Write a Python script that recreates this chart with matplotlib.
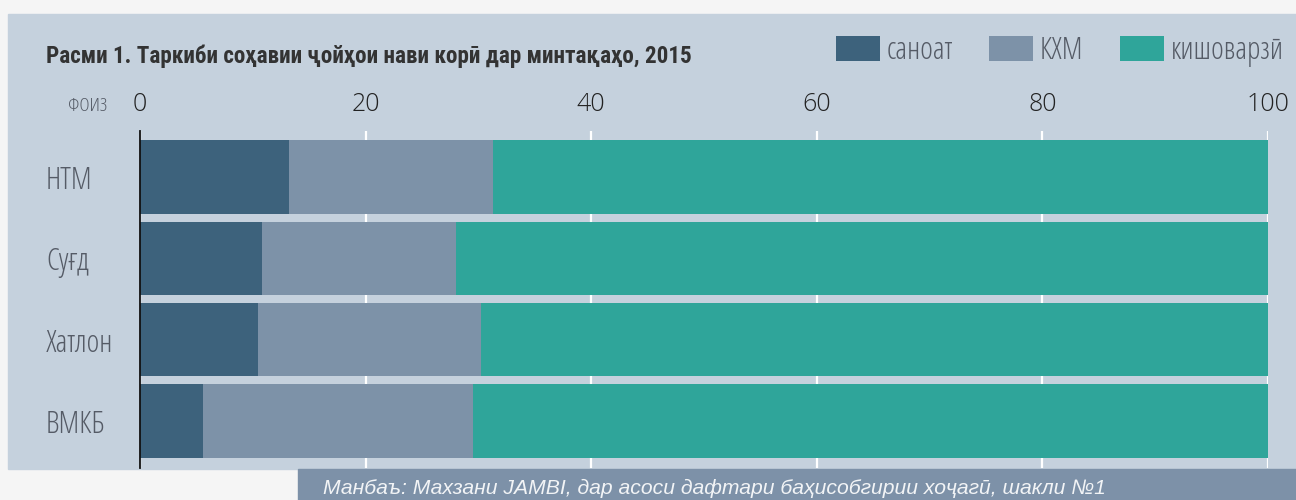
import matplotlib.pyplot as plt
from matplotlib.patches import Rectangle, Patch
from matplotlib.font_manager import FontProperties

# data (percent of new jobs by sector)
regions = ['НТМ', 'Суғд', 'Хатлон', 'ВМКБ']
sanoat = [13.2, 10.8, 10.5, 5.6]
khm = [18.1, 17.2, 19.7, 23.9]
kishovarzi = [68.7, 72.0, 69.8, 70.5]
xticks = [0, 20, 40, 60, 80, 100]

c_san = '#3d627c'
c_khm = '#7d92a8'
c_kish = '#2fa59a'
panel = '#c5d1dd'


def light(size, stretch='condensed'):
    return FontProperties(family=['Open Sans', 'DejaVu Sans'], stretch=stretch,
                          weight='light', size=size)


cond = ['Roboto Condensed', 'DejaVu Sans']

fig = plt.figure(figsize=(12.96, 5.0), dpi=100)
fig.patch.set_facecolor('#f5f5f5')

# background panel and source box
W, H = 1296, 500
fig.patches.append(Rectangle((8 / W, 1 - 469 / H), 1288 / W, 455 / H,
                             transform=fig.transFigure, color=panel, zorder=0))
fig.patches.append(Rectangle((298 / W, 0), 998 / W, 31 / H,
                             transform=fig.transFigure, color='#7d91a8', zorder=0))

ax = fig.add_axes([140 / W, 1 - 468 / H, 1128 / W, 337 / H])
ax.set_zorder(2)
ax.set_facecolor('none')

y = list(range(len(regions)))
ax.barh(y, sanoat, height=0.9, color=c_san, zorder=3)
ax.barh(y, khm, left=sanoat, height=0.9, color=c_khm, zorder=3)
left3 = [a + b for a, b in zip(sanoat, khm)]
ax.barh(y, kishovarzi, left=left3, height=0.9, color=c_kish, zorder=3)

ax.set_xlim(0, 100)
ax.set_ylim(3.578, -0.566)
ax.xaxis.tick_top()
ax.set_xticks(xticks)
ax.set_xticklabels([str(t) for t in xticks], fontproperties=light(18, 'normal'), color='#222222')
ax.tick_params(axis='x', length=0, pad=10)
ax.grid(axis='x', color='white', linewidth=1.6, zorder=1)

ax.set_yticks(y)
ax.set_yticklabels(regions, fontproperties=light(22), color='#555b66', ha='left')
ax.tick_params(axis='y', length=0, pad=67.7)

for s in ['top', 'right', 'bottom']:
    ax.spines[s].set_visible(False)
ax.spines['left'].set_color('#111111')
ax.spines['left'].set_linewidth(1.3)
ax.spines['left'].set_zorder(4)

fig.text(68 / W, 1 - 106 / H, 'ФОИЗ', fontproperties=light(14), color='#555b66',
         va='center', ha='left')

fig.text(46 / W, 1 - 56 / H, 'Расми 1. Таркиби соҳавии ҷойҳои нави корӣ дар минтақаҳо, 2015',
         family=cond, fontsize=16.7, fontweight='bold', color='#333333', va='center', ha='left')

handles = [Patch(facecolor=c_san, label='саноат'),
           Patch(facecolor=c_khm, label='КХМ'),
           Patch(facecolor=c_kish, label='кишоварзӣ')]
fig.legend(handles=handles, ncol=3, loc='center right', bbox_to_anchor=(1284 / W, 1 - 51 / H),
           frameon=False, prop=light(22), labelcolor='#555b66',
           handlelength=1.44, handleheight=0.88, handletextpad=0.22, columnspacing=1.2,
           borderpad=0, borderaxespad=0)

fig.text(323 / W, 1 - 488 / H,
         'Манбаъ: Махзани JAMBI, дар асоси дафтари баҳисобгирии хоҷагӣ, шакли №1',
         family=['Liberation Sans', 'DejaVu Sans'], fontsize=15.2, style='italic',
         color='#f2f4f6', va='center', ha='left')

fig.savefig('out.png', dpi=100, facecolor=fig.get_facecolor())
